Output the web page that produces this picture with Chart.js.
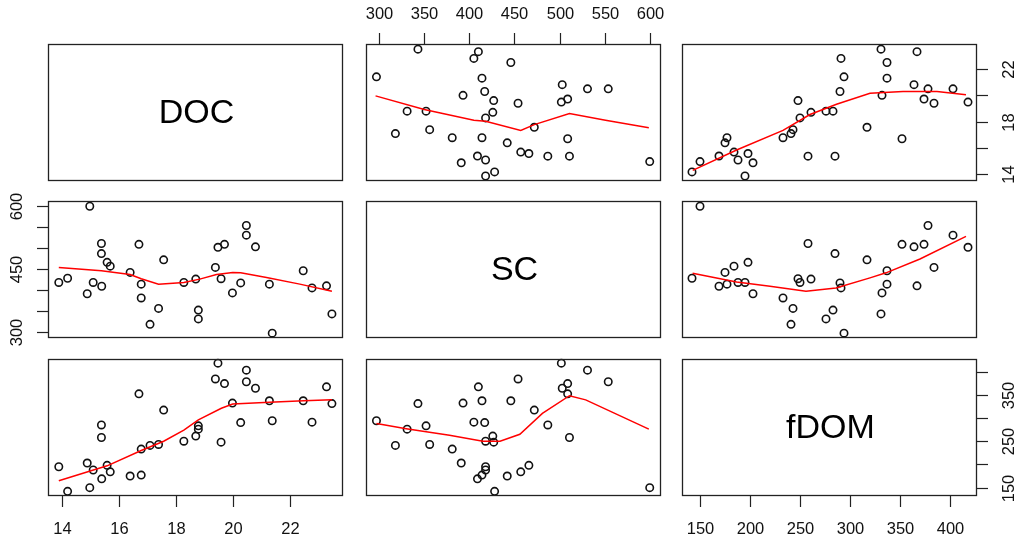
<!DOCTYPE html>
<html>
<head>
<meta charset="utf-8">
<script src="https://cdn.jsdelivr.net/npm/chart.js@4.4.1/dist/chart.umd.min.js"></script>
<style>
  html, body { margin: 0; padding: 0; background: #fff; overflow: hidden; }
  #wrap { position: relative; width: 1018px; height: 537px; }
  #wrap canvas { position: absolute; }
</style>
</head>
<body>
<div id="wrap"></div>
<script>
// variables of the scatterplot matrix (one entry per sample)
const varNames = ['DOC', 'SC', 'fDOM'];
const doc  = [13.88, 14.19, 14.88, 14.97, 15.09, 15.38, 15.38, 15.39, 15.58, 15.69, 16.39, 16.70,
              16.78, 16.78, 17.09, 17.39, 17.57, 18.28, 18.70, 18.79, 18.79, 19.39, 19.48, 19.59,
              19.71, 19.99, 20.28, 20.48, 20.48, 20.80, 21.29, 21.39, 22.48, 22.79, 23.30, 23.49];
const sc   = [418, 428, 391, 600, 418, 511, 487, 409, 466, 457, 442, 509,
              414, 381, 318, 356, 472, 418, 426, 352, 331, 454, 502, 427,
              509, 393, 417, 554, 531, 503, 414, 297, 446, 405, 410, 343];
const fdom = [195, 142, 203, 150, 188, 258, 285, 169, 198, 184, 175, 352,
              177, 233, 241, 243, 317, 250, 261, 283, 276, 384, 418, 248,
              374, 332, 290, 378, 403, 364, 337, 294, 337, 291, 367, 331];

// axis ranges and ticks
const docRange  = [13.5, 23.88];
const scRange   = [285.4, 612.5];
const fdomRange = [132, 427];
const docTicks  = [14, 16, 18, 20, 22];
const scTicks   = [300, 350, 400, 450, 500, 550, 600];
const fdomTicks = [150, 200, 250, 300, 350, 400];
// vertical axes only label some ticks
const docSideLabels  = [14, 18, 22];
const scSideLabels   = [300, 450, 600];
const fdomSideLabels = [150, 250, 350];

// red smoother lines, [x, y]
const smoothDocBySc   = [[296, 19.95], [350, 18.92], [405, 18.10], [418, 18.03], [457, 17.33], [472, 17.77], [511, 18.62], [551, 18.10], [599, 17.54]];
const smoothDocByFdom = [[142.7, 14.31], [186.6, 15.85], [233, 17.33], [260, 18.54], [286.5, 19.31], [320, 20.15], [353, 20.28], [387, 20.28], [416, 20.03]];
const smoothScByDoc   = [[13.88, 454], [15.38, 446], [16.39, 437], [16.78, 427], [17.39, 414], [18.28, 418], [18.84, 426], [19.43, 437], [20.0, 442], [20.28, 441], [21.19, 430], [22.36, 414], [23.49, 397]];
const smoothScByFdom  = [[142.6, 440], [186.6, 419], [220, 409], [256, 397], [286, 405], [320, 429], [336, 441], [370, 474], [416, 528]];
const smoothFdomByDoc = [[13.88, 165], [15.58, 197], [16.78, 230], [17.57, 250], [18.28, 274], [18.79, 296], [19.6, 321], [20.0, 330], [21.29, 334], [22.5, 337], [23.49, 339]];
const smoothFdomBySc  = [[297, 288], [330, 277], [378, 263], [415, 250], [434, 250], [456, 265], [481, 310], [511, 348], [529, 339], [599, 276]];

const vars = [doc, sc, fdom];
const ranges = [docRange, scRange, fdomRange];
const tickSets = [docTicks, scTicks, fdomTicks];
const sideLabelSets = [docSideLabels, scSideLabels, fdomSideLabels];
const smooths = {
  '0-1': smoothDocBySc, '0-2': smoothDocByFdom,
  '1-0': smoothScByDoc, '1-2': smoothScByFdom,
  '2-0': smoothFdomByDoc, '2-1': smoothFdomBySc
};

const colLeft = [48, 366, 682];
const rowTop = [44, 201, 359];
const boxW = 295, boxH = 137;
const M = 50;
const TICK = 11;
const tickFont = '16.5px "Liberation Sans", Arial, sans-serif';
const diagFont = '34px "Liberation Sans", Arial, sans-serif';

const panelPlugin = {
  id: 'panelPlugin',
  afterDraw(chart, args, o) {
    const { ctx, chartArea: a } = chart;
    const xs = chart.scales.x, ys = chart.scales.y;
    ctx.save();
    ctx.strokeStyle = '#222';
    ctx.lineWidth = 1.3;
    ctx.strokeRect(a.left + 0.5, a.top + 0.5, a.width - 1, a.height - 1);

    ctx.fillStyle = '#111';
    ctx.font = tickFont;
    ctx.textAlign = 'center';
    ctx.textBaseline = 'middle';
    ctx.lineWidth = 1.2;

    if (o.top || o.bottom) {
      const vals = tickSets[o.xVar];
      vals.forEach(v => {
        const px = Math.round(xs.getPixelForValue(v)) + 0.5;
        ctx.beginPath();
        if (o.top) { ctx.moveTo(px, a.top); ctx.lineTo(px, a.top - TICK); }
        else { ctx.moveTo(px, a.bottom); ctx.lineTo(px, a.bottom + TICK); }
        ctx.stroke();
        if (o.top) ctx.fillText(String(v), px, a.top - 30);
        else ctx.fillText(String(v), px, a.bottom + 33);
      });
    }
    if (o.left || o.right) {
      const vals = tickSets[o.yVar];
      const labs = sideLabelSets[o.yVar];
      vals.forEach(v => {
        const py = Math.round(ys.getPixelForValue(v)) + 0.5;
        ctx.beginPath();
        if (o.left) { ctx.moveTo(a.left, py); ctx.lineTo(a.left - TICK, py); }
        else { ctx.moveTo(a.right, py); ctx.lineTo(a.right + TICK, py); }
        ctx.stroke();
        if (labs.includes(v)) {
          ctx.save();
          ctx.translate(o.left ? a.left - 31 : a.right + 32, py);
          ctx.rotate(-Math.PI / 2);
          ctx.fillText(String(v), 0, 0);
          ctx.restore();
        }
      });
    }
    if (o.label) {
      ctx.font = diagFont;
      ctx.fillStyle = '#000';
      ctx.fillText(o.label, (a.left + a.right) / 2 + 1, (a.top + a.bottom) / 2 + 1);
    }
    ctx.restore();
  }
};

const wrap = document.getElementById('wrap');

for (let i = 0; i < 3; i++) {
  for (let j = 0; j < 3; j++) {
    const canvas = document.createElement('canvas');
    canvas.width = boxW + 2 * M;
    canvas.height = boxH + 2 * M;
    canvas.style.left = (colLeft[j] - M) + 'px';
    canvas.style.top = (rowTop[i] - M) + 'px';
    canvas.style.width = canvas.width + 'px';
    canvas.style.height = canvas.height + 'px';
    wrap.appendChild(canvas);

    const datasets = [];
    if (i !== j) {
      const line = smooths[i + '-' + j];
      datasets.push({
        data: line.map(p => ({ x: p[0], y: p[1] })),
        showLine: true,
        borderColor: '#ff0000',
        borderWidth: 1.5,
        pointRadius: 0,
        tension: 0,
        clip: false
      });
      datasets.push({
        data: vars[j].map((v, k) => ({ x: v, y: vars[i][k] })),
        pointStyle: 'circle',
        pointRadius: 3.7,
        pointBorderWidth: 1.6,
        pointBorderColor: '#111',
        pointBackgroundColor: 'rgba(0,0,0,0)',
        showLine: false,
        clip: false
      });
    }

    new Chart(canvas, {
      type: 'scatter',
      data: { datasets },
      options: {
        responsive: false,
        animation: false,
        devicePixelRatio: 1,
        events: [],
        layout: { padding: M },
        scales: {
          x: { display: false, min: ranges[j][0], max: ranges[j][1] },
          y: { display: false, min: ranges[i][0], max: ranges[i][1] }
        },
        plugins: {
          legend: { display: false },
          tooltip: { enabled: false },
          panelPlugin: {
            xVar: j, yVar: i,
            label: i === j ? varNames[i] : null,
            top: i === 0 && j % 2 === 1,
            bottom: i === 2 && j % 2 === 0,
            left: j === 0 && i % 2 === 1,
            right: j === 2 && i % 2 === 0
          }
        }
      },
      plugins: [panelPlugin]
    });
  }
}
</script>
</body>
</html>
